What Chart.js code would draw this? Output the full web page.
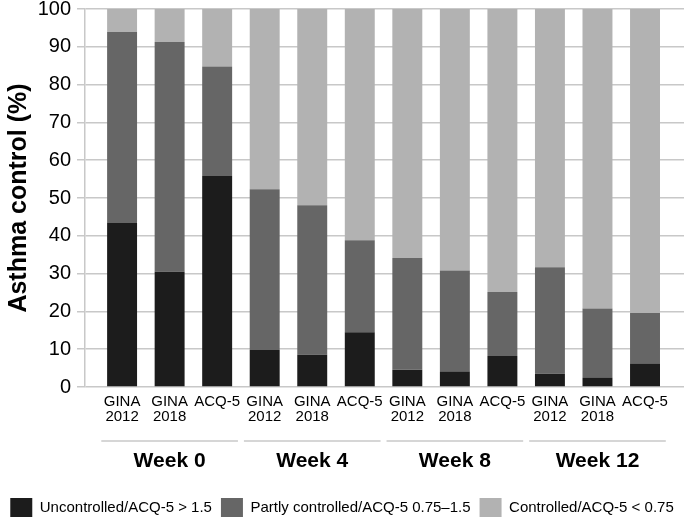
<!DOCTYPE html>
<html>
<head>
<meta charset="utf-8">
<script src="https://cdn.jsdelivr.net/npm/chart.js"></script>
<style>
  html, body { margin: 0; padding: 0; background: #fff; }
  #wrap { width: 685px; height: 523px; }
</style>
</head>
<body>
<div id="wrap"><canvas id="controlChart"></canvas></div>
<script>
/* === DATA === */
const barLabels = [
  ["GINA", "2012"], ["GINA", "2018"], ["ACQ-5"],
  ["GINA", "2012"], ["GINA", "2018"], ["ACQ-5"],
  ["GINA", "2012"], ["GINA", "2018"], ["ACQ-5"],
  ["GINA", "2012"], ["GINA", "2018"], ["ACQ-5"]
];
const weeks = ["Week 0", "Week 4", "Week 8", "Week 12"];

const uncontrolled = [43.5, 30.5, 55.8, 9.8, 8.5, 14.5, 4.6, 4.0, 8.2, 3.5, 2.4, 6.1];
const partly       = [50.4, 60.8, 29.0, 42.5, 39.6, 24.3, 29.5, 26.8, 16.9, 28.2, 18.4, 13.5];
const controlled   = [6.1, 8.7, 15.2, 47.7, 51.9, 61.2, 65.9, 69.2, 74.9, 68.3, 79.2, 80.4];

const seriesNames = [
  "Uncontrolled/ACQ-5 > 1.5",
  "Partly controlled/ACQ-5 0.75\u20131.5",
  "Controlled/ACQ-5 < 0.75"
];

const SANS = '"Liberation Sans", Arial, sans-serif';
const GRID = "#c8c8c8";

const toPoints = (arr) => arr.map((v, i) => ({ x: i, y: v }));

/* === WEEK GROUPS UNDER THE AXIS === */
const weekGroups = {
  id: "weekGroups",
  afterDraw(chart) {
    const { ctx } = chart;
    const x = chart.scales.x;
    ctx.save();
    weeks.forEach((w, g) => {
      const x0 = x.getPixelForValue(g * 3 - 0.5) + 3;
      const x1 = x.getPixelForValue(g * 3 + 2.5) - 3;
      const lineY = x.top + 54;
      ctx.strokeStyle = GRID;
      ctx.lineWidth = 1.5;
      ctx.beginPath();
      ctx.moveTo(x0, lineY);
      ctx.lineTo(x1, lineY);
      ctx.stroke();
      ctx.fillStyle = "#000";
      ctx.font = "bold 21px " + SANS;
      ctx.textAlign = "center";
      ctx.textBaseline = "middle";
      ctx.fillText(w, (x0 + x1) / 2, lineY + 20);
    });
    ctx.restore();
  }
};

/* === CHART === */
const canvas = document.getElementById("controlChart");
new Chart(canvas.getContext("2d"), {
  type: "bar",
  data: {
    datasets: [
      { label: seriesNames[0], data: toPoints(uncontrolled), backgroundColor: "#1c1c1c" },
      { label: seriesNames[1], data: toPoints(partly), backgroundColor: "#666666" },
      { label: seriesNames[2], data: toPoints(controlled), backgroundColor: "#b2b2b2" }
    ]
  },
  options: {
    responsive: true,
    maintainAspectRatio: false,
    animation: false,
    layout: { padding: { top: 9, right: 1, left: 0, bottom: -4 } },
    datasets: {
      bar: { barPercentage: 0.63, categoryPercentage: 1, borderWidth: 0 }
    },
    plugins: {
      tooltip: { enabled: false },
      legend: {
        position: "bottom",
        labels: {
          boxWidth: 22,
          boxHeight: 19,
          padding: 9,
          color: "#000",
          font: { family: SANS, size: 15 }
        }
      }
    },
    scales: {
      x: {
        type: "linear",
        stacked: true,
        offset: false,
        min: -0.78,
        max: 11.82,
        afterBuildTicks: (scale) => {
          scale.ticks = barLabels.map((_, i) => ({ value: i }));
        },
        afterFit: (scale) => {
          scale.height = 102;
          scale.paddingLeft = 0;
          scale.paddingRight = 0;
        },
        grid: { display: false, drawTicks: false },
        border: { display: false },
        ticks: {
          autoSkip: false,
          maxRotation: 0,
          padding: 7,
          color: "#000",
          font: { family: SANS, size: 15, lineHeight: 1.02 },
          callback: (v, i) => barLabels[i]
        }
      },
      y: {
        stacked: true,
        min: 0,
        max: 100,
        afterFit: (scale) => {
          scale.width = 85;
          scale.paddingTop = 0;
          scale.paddingBottom = 0;
        },
        grid: { color: GRID, lineWidth: 1.5, tickLength: 8 },
        border: { display: true, color: GRID, width: 1.5 },
        ticks: {
          stepSize: 10,
          padding: 6,
          color: "#000",
          font: { family: SANS, size: 20, lineHeight: 1 }
        },
        title: {
          display: true,
          text: "Asthma control (%)",
          color: "#000",
          padding: { top: 4, bottom: 0 },
          font: { family: SANS, size: 25, weight: "bold" }
        }
      }
    }
  },
  plugins: [weekGroups]
});
</script>
</body>
</html>
